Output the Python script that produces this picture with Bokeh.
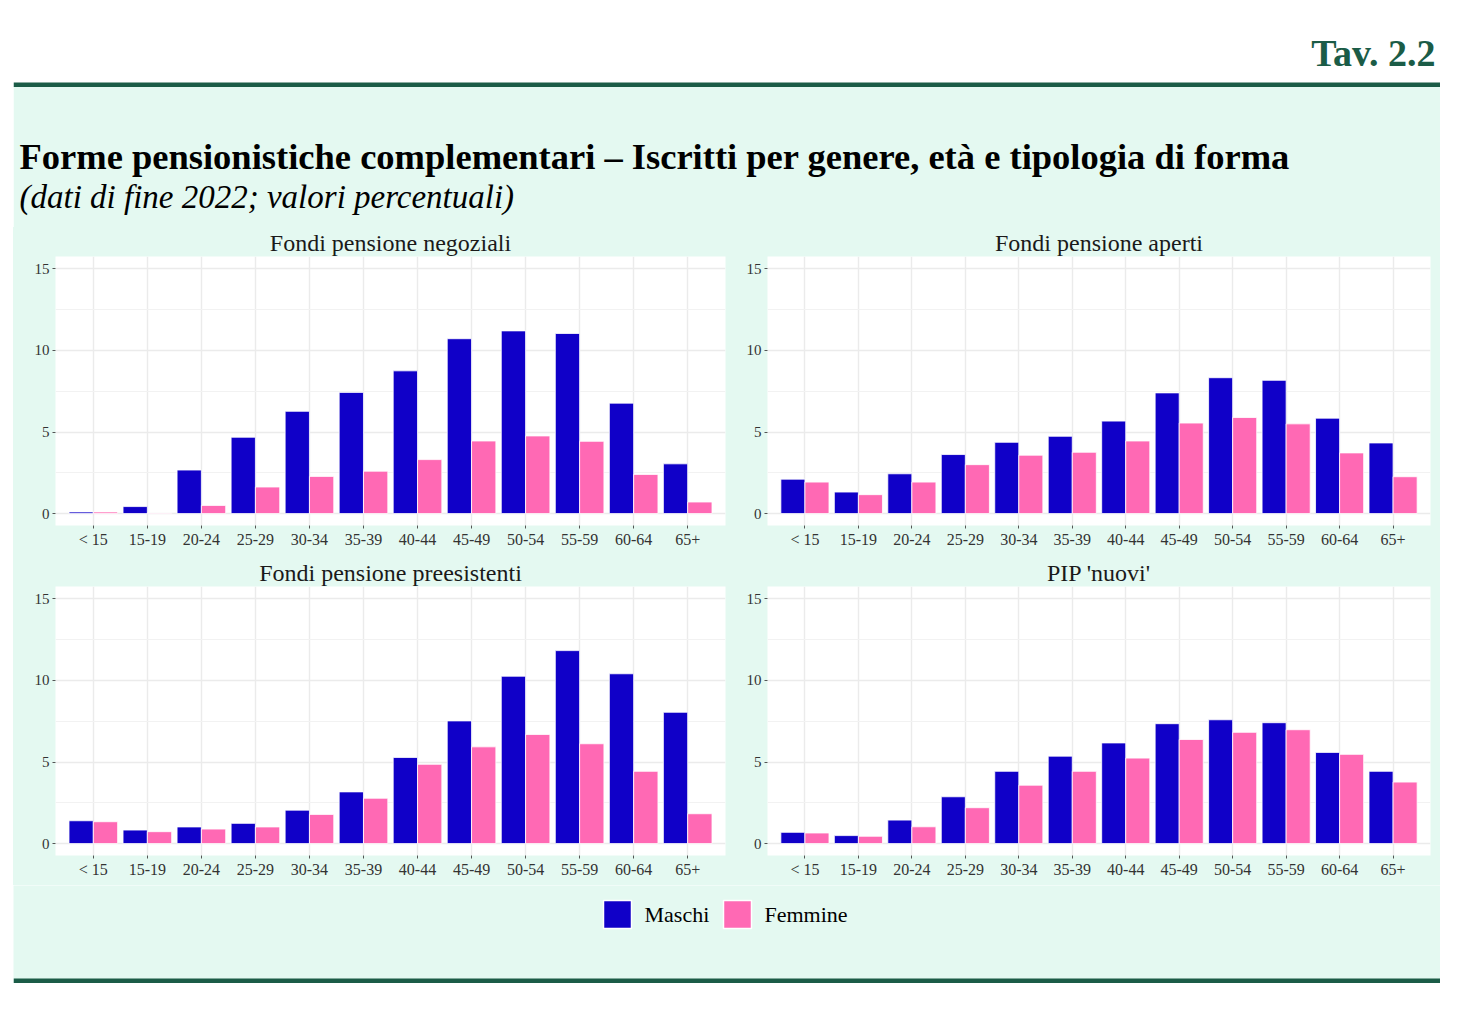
from bokeh.plotting import figure
from bokeh.layouts import column, row
from bokeh.models import Range1d, FactorRange, ColumnDataSource, FixedTicker
from bokeh.transform import dodge
from bokeh.core.properties import value
from bokeh.embed import file_html
from bokeh.resources import INLINE

# ---------------- data ----------------
ages = ["< 15", "15-19", "20-24", "25-29", "30-34", "35-39",
        "40-44", "45-49", "50-54", "55-59", "60-64", "65+"]

neg_m = [0.10, 0.43, 2.67, 4.68, 6.27, 7.43, 8.75, 10.72, 11.20, 11.04, 6.77, 3.05]
neg_f = [0.10, 0.04, 0.50, 1.63, 2.28, 2.60, 3.31, 4.45, 4.76, 4.43, 2.40, 0.71]

ape_m = [2.11, 1.32, 2.44, 3.62, 4.37, 4.74, 5.67, 7.40, 8.33, 8.17, 5.85, 4.33]
ape_f = [1.93, 1.16, 1.93, 3.00, 3.58, 3.76, 4.45, 5.55, 5.89, 5.50, 3.72, 2.26]

pre_m = [1.40, 0.83, 1.02, 1.24, 2.05, 3.17, 5.28, 7.52, 10.26, 11.83, 10.41, 8.05]
pre_f = [1.34, 0.73, 0.89, 1.02, 1.79, 2.78, 4.86, 5.93, 6.69, 6.12, 4.43, 1.83]

pip_m = [0.69, 0.49, 1.44, 2.87, 4.43, 5.36, 6.17, 7.35, 7.59, 7.41, 5.59, 4.43]
pip_f = [0.65, 0.45, 1.03, 2.20, 3.58, 4.43, 5.24, 6.38, 6.82, 6.98, 5.47, 3.77]

panel_titles = ["Fondi pensione negoziali", "Fondi pensione aperti",
                "Fondi pensione preesistenti", "PIP 'nuovi'"]
series_names = ["Maschi", "Femmine"]
y_ticks = [0, 5, 10, 15]
y_minor = [2.5, 7.5, 12.5]

main_title = "Forme pensionistiche complementari \u2013 Iscritti per genere, et\u00e0 e tipologia di forma"
subtitle = "(dati di fine 2022; valori percentuali)"
tav = "Tav. 2.2"

# ---------------- style ----------------
BLUE = "#1000c8"
PINK = "#ff69b4"
MINT = "#e4f9f1"
DKGREEN = "#1b5c47"
SERIF = "Liberation Serif"

TOTAL_W = 1427


def panel(title, m, f, width, left, right, top, bottom, height):
    src = ColumnDataSource(dict(age=ages, m=m, f=f))
    p = figure(x_range=FactorRange(*ages, range_padding=0.2, range_padding_units="absolute"),
               y_range=Range1d(-0.73, 15.76),
               width=width, height=height, output_backend="svg", toolbar_location=None,
               min_border_left=left, min_border_right=right,
               min_border_top=top, min_border_bottom=bottom)
    p.vbar(x=dodge("age", -0.225, range=p.x_range), top="m", bottom=0, width=0.45,
           source=src, fill_color=BLUE, line_color="white", line_width=0.8)
    p.vbar(x=dodge("age", 0.225, range=p.x_range), top="f", bottom=0, width=0.45,
           source=src, fill_color=PINK, line_color="white", line_width=0.8)
    p.background_fill_color = "white"
    p.border_fill_color = MINT
    p.outline_line_color = None
    p.title.text = title
    p.title.align = "center"
    p.title.text_font = SERIF
    p.title.text_font_size = "24px"
    p.title.text_font_style = "normal"
    p.title.text_color = "#1a1a1a"
    p.title.standoff = 1
    p.yaxis.ticker = FixedTicker(ticks=y_ticks, minor_ticks=y_minor)
    for ax in (p.xaxis[0], p.yaxis[0]):
        ax.axis_line_color = None
        ax.major_tick_in = 0
        ax.major_tick_out = 3
        ax.major_tick_line_color = "#555555"
        ax.minor_tick_line_color = None
        ax.major_label_text_font = SERIF
        ax.major_label_text_font_size = "16px"
        ax.major_label_text_color = "#333333"
        ax.major_label_standoff = 2
    p.yaxis.major_label_text_font_size = "15px"
    p.xgrid.grid_line_color = "#ebebeb"
    p.xgrid.grid_line_width = 1.4
    p.ygrid.grid_line_color = "#ebebeb"
    p.ygrid.grid_line_width = 1.4
    p.ygrid.minor_grid_line_color = "#f2f2f2"
    p.ygrid.minor_grid_line_width = 1
    return p


# header (page y 8..228)
HH = 220
hdr = figure(width=TOTAL_W, height=HH, x_range=Range1d(0, TOTAL_W), y_range=Range1d(HH, 0),
             output_backend="svg", toolbar_location=None, min_border=0)
hdr.axis.visible = False
hdr.grid.visible = False
hdr.outline_line_color = None
hdr.background_fill_color = "white"
hdr.border_fill_color = "white"
hdr.quad(left=[0], right=[TOTAL_W], top=[79], bottom=[HH + 2], fill_color=MINT, line_color=None)
hdr.quad(left=[0], right=[TOTAL_W], top=[75], bottom=[79.5], fill_color=DKGREEN, line_color=None)
hdr.text(x=[1422], y=[45], text=[tav], text_font=value(SERIF), text_font_style="bold",
         text_font_size="38px", text_color=DKGREEN, text_align="right", text_baseline="middle")
hdr.text(x=[6], y=[149], text=[main_title], text_font=value(SERIF), text_font_style="bold",
         text_font_size="36.5px", text_color="black", text_align="left", text_baseline="middle")
hdr.text(x=[6], y=[189], text=[subtitle], text_font=value(SERIF), text_font_style="italic",
         text_font_size="33px", text_color="black", text_align="left", text_baseline="middle")

p1 = panel(panel_titles[0], neg_m, neg_f, 730, 42, 18, 29, 30, 328)
p2 = panel(panel_titles[1], ape_m, ape_f, 697, 20, 10, 29, 30, 328)
p3 = panel(panel_titles[2], pre_m, pre_f, 730, 42, 18, 31, 30, 330)
p4 = panel(panel_titles[3], pip_m, pip_f, 697, 20, 10, 31, 30, 330)

# legend + bottom rule (page y 886..984)
LH = 98
leg = figure(width=TOTAL_W, height=LH, x_range=Range1d(0, TOTAL_W), y_range=Range1d(LH, 0),
             output_backend="svg", toolbar_location=None, min_border=0)
leg.axis.visible = False
leg.grid.visible = False
leg.outline_line_color = None
leg.background_fill_color = MINT
leg.border_fill_color = MINT
leg.quad(left=[0], right=[TOTAL_W], top=[93], bottom=[LH + 1], fill_color=DKGREEN, line_color=None)
sw_x = [590, 710]
lab_x = [631, 751]
leg.quad(left=sw_x, right=[x + 28 for x in sw_x], top=[15, 15], bottom=[43, 43],
         fill_color=[BLUE, PINK], line_color="white", line_width=1.5)
leg.text(x=lab_x, y=[29, 29], text=series_names, text_font=value(SERIF),
         text_font_size="22px", text_color="black", text_align="left", text_baseline="middle")

bg = {"background-color": MINT}
layout = column(hdr,
                row(p1, p2, spacing=0, styles=bg),
                row(p3, p4, spacing=0, styles=bg),
                leg,
                spacing=0, margin=(7, 0, 0, 13))

open("out.html", "w").write(file_html(layout, INLINE))
